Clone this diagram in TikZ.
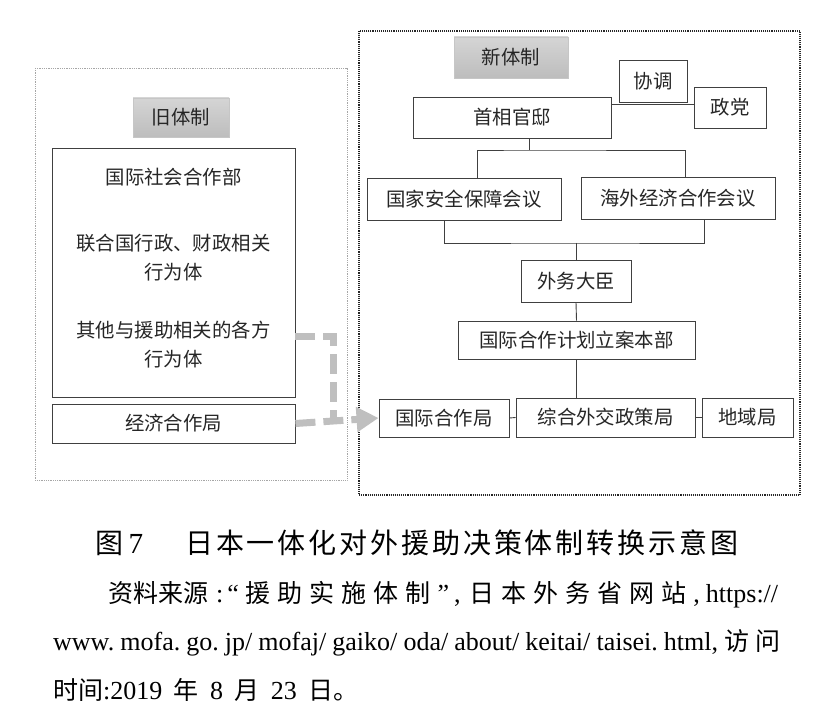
\documentclass[tikz,border=0pt]{standalone}
\usepackage{fontspec}
\setmainfont{Liberation Serif}
\newfontfamily\cjk{Noto Sans CJK SC}
\newfontfamily\lat[Scale=1.04]{Liberation Serif}
\usetikzlibrary{arrows.meta,positioning}

\makeatletter
\def\spreadend{\spreadend}
\newcommand\spreadline[2]{\hbox to #1{\spread@first#2\spreadend}}
\def\spread@first#1{{#1}\spread@rest}
\def\spread@rest#1{\ifx\spreadend#1\else\hfil{#1}\expandafter\spread@rest\fi}
\makeatother

\begin{document}
\begin{tikzpicture}[x=1pt,y=-1pt,
        unit/.style={rectangle, draw=black!75, line width=0.9pt, inner sep=0pt, text=black!85,
                font=\cjk\fontsize{19.4}{29}\selectfont, align=center},
        tag/.style={unit, draw=gray!45, top color=gray!33, bottom color=gray!52},
        note/.style={inner sep=0pt, text=black!85, font=\cjk\fontsize{19.4}{29}\selectfont, align=center},
        link/.style={draw=black!75, line width=0.9pt},
        handover/.style={draw=gray!50, line width=7pt, dash pattern=on 20pt off 8pt},
        capline/.style={anchor=base west, inner sep=0pt, font=\fontsize{25}{30}\selectfont}]
        \useasboundingbox[fill=white] (0,0) rectangle (826,708);

        \draw[gray!70, densely dotted, line width=0.8pt] (35,68) rectangle (347,480);
        \draw[black!85, densely dotted, line width=1.1pt] (359,31) rectangle (800,495);

        \node[tag, minimum width=96pt, minimum height=39pt] (OldTag) at (181,117.5) {旧体制};
        \node[unit, minimum width=243pt, minimum height=249pt] (OldBody) at (173.5,272.5) {};
        \node[note] (OldA) at (173.5,177) {国际社会合作部};
        \node[note] (OldB) at (173.5,257.5) {联合国行政、财政相关\\行为体};
        \node[note] (OldC) at (173.5,345) {其他与援助相关的各方\\行为体};
        \node[unit, minimum width=243pt, minimum height=39pt] (Econ) at (173.5,423.5) {经济合作局};

        \node[tag, minimum width=114pt, minimum height=41pt] (NewTag) at (511,57.5) {新体制};
        \node[unit, minimum width=68pt, minimum height=42pt] (Coord) at (653,81) {协调};
        \node[unit, minimum width=72pt, minimum height=41pt] (Party) at (730,107.5) {政党};
        \node[unit, minimum width=198pt, minimum height=41pt] (Cabinet) at (512,117.5) {首相官邸};
        \node[unit, minimum width=194pt, minimum height=42pt] (Security) at (464,199) {国家安全保障会议};
        \node[unit, minimum width=194pt, minimum height=42pt] (Overseas) at (678,198) {海外经济合作会议};
        \node[unit, minimum width=110pt, minimum height=42pt] (Minister) at (576,281) {外务大臣};
        \node[unit, minimum width=237pt, minimum height=38pt] (Planning) at (576.5,340) {国际合作计划立案本部};
        \node[unit, minimum width=130pt, minimum height=38pt] (Intl) at (444,418) {国际合作局};
        \node[unit, minimum width=179pt, minimum height=39pt] (Policy) at (605.5,417.5) {综合外交政策局};
        \node[unit, minimum width=91pt, minimum height=39pt] (Region) at (747.5,417.5) {地域局};

        \coordinate (PartyLink) at (650,104);
        \coordinate (TopSplit) at (529,150);
        \coordinate (MidJoin) at (576,243);
        \coordinate (OldBend) at (333,336);

        \draw[link] (Cabinet.east |- PartyLink) -- (Party.west |- PartyLink);
        \draw[link] (Cabinet.south -| TopSplit) -- (TopSplit);
        \draw[link] ([xshift=13pt]Security.north) |- (TopSplit) -| ([xshift=7pt]Overseas.north);
        \draw[link] ([xshift=-20pt]Security.south) |- (MidJoin) -| ([xshift=26pt]Overseas.south);
        \draw[link] (MidJoin) -- (Minister.north);
        \draw[link] (Minister.south) -- (Planning.north);
        \draw[link] (Planning.south) -- (Planning.south |- Policy.north);
        \draw[link] (Intl.east) -- (Policy.west);
        \draw[link] (Policy.east) -- (Region.west);

        \draw[handover] (OldBody.east |- OldBend) -- (OldBend) -- (OldBend |- Econ.east);
        \draw[handover, -{Triangle[length=22pt,width=24pt]}] (Econ.east) -- (Intl.west);

        \node[capline, font=\fontsize{28}{30}\selectfont] (FigNo) at (95,553) {\spreadline{48pt}{{\cjk 图}{\lat 7}}};
        \node[capline, font=\fontsize{28}{30}\selectfont] (FigTitle) at (185,553) {\cjk\spreadline{553pt}{日本一体化对外援助决策体制转换示意图}};
        \node[capline] (SrcA) at (108,602.5) {\cjk\spreadline{670pt}{{资料来源}{\lat\hspace{1pt}:\hspace{4pt}“}援助实施体制{\lat ”\hspace{5pt},\hspace{2pt}}日本外务省网站{\lat ,\hspace{6pt}https://}}};
        \node[capline] (SrcB) at (53,650.5) {\cjk\spreadline{727pt}{{\lat www.}{\lat mofa.}{\lat go.}{\lat jp/}{\lat mofaj/}{\lat gaiko/}{\lat oda/}{\lat about/}{\lat keitai/}{\lat taisei.}{\lat html,}访问}};
        \node[capline] (SrcC) at (53,699.5) {\cjk\spreadline{305pt}{{时间\lat :2019}年{\lat 8}月{\lat 23}{日。}}};
\end{tikzpicture}
\end{document}
